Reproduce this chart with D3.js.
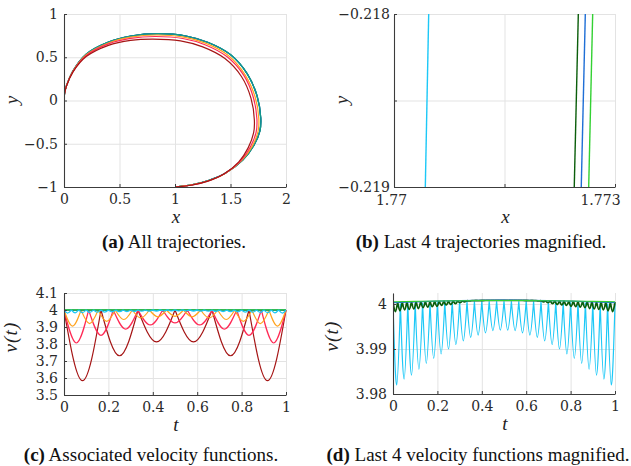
<!DOCTYPE html>
<html>
<head>
<meta charset="utf-8">
<script src="https://cdn.jsdelivr.net/npm/d3@7"></script>
<style>
body { margin: 0; background: #fff; }
.tk { font-family: "DejaVu Serif", "Liberation Serif", "Noto Serif", serif; }
.ttl { font-family: "Liberation Serif", "Times New Roman", "DejaVu Serif", serif; font-style: italic; }
.cap { font-family: "Liberation Serif", "Times New Roman", "DejaVu Serif", serif; }
</style>
</head>
<body>
<script>
// ---- data ----

// (a) trajectories, [x, y]
var trajDarkRed = [[0,0],[0.005,0.08],[0.022,0.166],[0.08,0.328],[0.2,0.508],[0.4,0.638],[0.6,0.695],[0.8,0.71],[1.05,0.69],[1.25,0.62],[1.45,0.485],[1.6,0.275],[1.685,0.025],[1.715,-0.225],[1.708,-0.375],[1.66,-0.545],[1.575,-0.71],[1.44,-0.85],[1.29,-0.935],[1.145,-0.98],[1,-1]];
var trajCrimson = [[0,0],[0.005,0.08],[0.022,0.168],[0.08,0.333],[0.2,0.52],[0.4,0.655],[0.6,0.718],[0.82,0.74],[1.07,0.717],[1.27,0.645],[1.47,0.505],[1.62,0.29],[1.706,0.035],[1.738,-0.215],[1.731,-0.365],[1.68,-0.535],[1.59,-0.7],[1.45,-0.843],[1.3,-0.93],[1.15,-0.977],[1,-1]];
var trajOrange = [[0,0],[0.005,0.08],[0.022,0.17],[0.08,0.337],[0.2,0.528],[0.4,0.665],[0.6,0.732],[0.83,0.757],[1.08,0.732],[1.28,0.66],[1.48,0.52],[1.63,0.3],[1.722,0.04],[1.755,-0.21],[1.748,-0.36],[1.695,-0.53],[1.6,-0.695],[1.455,-0.84],[1.3,-0.928],[1.15,-0.976],[1,-1]];
var trajCyan = [[0,0],[0.005,0.08],[0.022,0.17],[0.08,0.34],[0.2,0.534],[0.4,0.673],[0.6,0.743],[0.85,0.77],[1.1,0.743],[1.3,0.668],[1.5,0.528],[1.65,0.308],[1.738,0.05],[1.7705,-0.2],[1.763,-0.35],[1.708,-0.52],[1.608,-0.69],[1.459,-0.835],[1.3,-0.925],[1.15,-0.975],[1,-1]];
var trajDarkGreen = [[0,0],[0.005,0.08],[0.022,0.17],[0.08,0.34],[0.2,0.535],[0.4,0.675],[0.6,0.745],[0.85,0.772],[1.1,0.745],[1.3,0.67],[1.5,0.53],[1.65,0.31],[1.74,0.05],[1.7724,-0.2],[1.765,-0.35],[1.71,-0.52],[1.61,-0.69],[1.46,-0.835],[1.3,-0.925],[1.15,-0.975],[1,-1]];
var trajBlue = [[0,0],[0.005,0.08],[0.022,0.17],[0.08,0.34],[0.2,0.535],[0.4,0.675],[0.6,0.745],[0.85,0.772],[1.1,0.745],[1.3,0.67],[1.5,0.53],[1.65,0.31],[1.74,0.05],[1.7725,-0.2],[1.765,-0.35],[1.71,-0.52],[1.61,-0.69],[1.46,-0.835],[1.3,-0.925],[1.15,-0.975],[1,-1]];
var trajGreen = [[0,0],[0.005,0.08],[0.022,0.17],[0.08,0.34],[0.2,0.536],[0.4,0.676],[0.6,0.746],[0.85,0.773],[1.1,0.746],[1.3,0.671],[1.5,0.531],[1.65,0.311],[1.741,0.05],[1.7727,-0.2],[1.766,-0.35],[1.711,-0.52],[1.611,-0.69],[1.461,-0.835],[1.3,-0.925],[1.15,-0.975],[1,-1]];

// (b) the last 4 trajectories inside the magnified window
var magCyan = [[1.770425,-0.219],[1.770471,-0.218]];
var magDarkGreen = [[1.772447,-0.219],[1.772502,-0.218]];
var magBlue = [[1.772542,-0.219],[1.772597,-0.218]];
var magGreen = [[1.772643,-0.219],[1.772697,-0.218]];

// (c)/(d) velocity functions: cusp times, cusp values, dip value of each arch
var velDarkRedT = [0, 0.1667, 0.3333, 0.5, 0.6667, 0.8333, 1];
var velDarkRedTop = [4, 4, 4, 4, 4, 4, 4];
var velDarkRedDip = [3.584, 3.731, 3.812, 3.812, 3.731, 3.584];

var velCrimsonT = [0, 0.1111, 0.2222, 0.3333, 0.4444, 0.5556, 0.6667, 0.7778, 0.8889, 1];
var velCrimsonTop = [4, 4, 4, 4, 4, 4, 4, 4, 4, 4];
var velCrimsonDip = [3.806, 3.851, 3.888, 3.912, 3.924, 3.912, 3.888, 3.851, 3.806];

var velOrangeT = [0, 0.0769, 0.1538, 0.2308, 0.3077, 0.3846, 0.4615, 0.5385, 0.6154, 0.6923, 0.7692, 0.8462, 0.9231, 1];
var velOrangeTop = [4, 4, 4, 4, 4, 4, 4, 4, 4, 4, 4, 4, 4, 4];
var velOrangeDip = [3.905, 3.92, 3.933, 3.944, 3.953, 3.96, 3.963, 3.96, 3.953, 3.944, 3.933, 3.92, 3.905];

var velCyanT = [0, 0.0333, 0.0667, 0.1, 0.1333, 0.1667, 0.2, 0.2333, 0.2667, 0.3, 0.3333, 0.3667, 0.4, 0.4333, 0.4667, 0.5,
  0.5333, 0.5667, 0.6, 0.6333, 0.6667, 0.7, 0.7333, 0.7667, 0.8, 0.8333, 0.8667, 0.9, 0.9333, 0.9667, 1];
var velCyanTop = [4, 4.00008, 4.00015, 4.00022, 4.00028, 4.00033, 4.00038, 4.00043, 4.00047, 4.0005, 4.00053, 4.00056, 4.00058, 4.00059, 4.0006, 4.0006,
  4.0006, 4.00059, 4.00058, 4.00056, 4.00053, 4.0005, 4.00047, 4.00043, 4.00038, 4.00033, 4.00028, 4.00022, 4.00015, 4.00008, 4];
var velCyanDip = [3.982, 3.9833, 3.9842, 3.9855, 3.9868, 3.9879, 3.9889, 3.99, 3.991, 3.9918, 3.9926, 3.9931, 3.9936, 3.9941, 3.9942,
  3.9942, 3.9941, 3.9936, 3.9931, 3.9926, 3.9918, 3.991, 3.99, 3.9889, 3.9879, 3.9868, 3.9855, 3.9842, 3.9833, 3.982];

var velDarkGreenT = [0, 0.0208, 0.0417, 0.0625, 0.0833, 0.1042, 0.125, 0.1458, 0.1667, 0.1875, 0.2083, 0.2292, 0.25, 0.2708, 0.2917, 0.3125, 0.3333,
  0.3542, 0.375, 0.3958, 0.4167, 0.4375, 0.4583, 0.4792, 0.5, 0.5208, 0.5417, 0.5625, 0.5833, 0.6042, 0.625, 0.6458, 0.6667,
  0.6875, 0.7083, 0.7292, 0.75, 0.7708, 0.7917, 0.8125, 0.8333, 0.8542, 0.875, 0.8958, 0.9167, 0.9375, 0.9583, 0.9792, 1];
var velDarkGreenTop = [4.0004, 4.00043, 4.00046, 4.00049, 4.00052, 4.00055, 4.00058, 4.0006, 4.00062, 4.00064, 4.00066, 4.00068, 4.0007, 4.00072, 4.00073, 4.00074, 4.00075,
  4.00076, 4.00077, 4.00078, 4.00079, 4.00079, 4.0008, 4.0008, 4.0008, 4.0008, 4.0008, 4.00079, 4.00079, 4.00078, 4.00077, 4.00076, 4.00075,
  4.00074, 4.00073, 4.00072, 4.0007, 4.00068, 4.00066, 4.00064, 4.00062, 4.0006, 4.00058, 4.00055, 4.00052, 4.00049, 4.00046, 4.00043, 4.0004];
var velDarkGreenDip = [3.9983, 3.9985, 3.9987, 3.9988, 3.9989, 3.999, 3.9992, 3.9993, 3.9994, 3.9995, 3.9997, 3.9998, 3.9999, 4.0001, 4.0003, 4.0005, 4.00068,
  4.00074, 4.00076, 4.00077, 4.00078, 4.00079, 4.00079, 4.0008, 4.0008, 4.00079, 4.00079, 4.00078, 4.00077, 4.00076, 4.00074, 4.00068,
  4.0005, 4.0003, 4.0001, 3.9999, 3.9998, 3.9997, 3.9995, 3.9994, 3.9993, 3.9992, 3.999, 3.9989, 3.9988, 3.9987, 3.9985, 3.9983];

var velBlueT = [0, 0.1, 0.2, 0.3, 0.4, 0.5, 0.6, 0.7, 0.8, 0.9, 1];
var velBlueV = [4.0003, 4.00048, 4.00062, 4.00073, 4.0008, 4.00083, 4.0008, 4.00073, 4.00062, 4.00048, 4.0003];
var velGreenT = [0, 0.1, 0.2, 0.3, 0.4, 0.5, 0.6, 0.7, 0.8, 0.9, 1];
var velGreenV = [4.0005, 4.00058, 4.00066, 4.00072, 4.00076, 4.00078, 4.00076, 4.00072, 4.00066, 4.00058, 4.0005];

// ticks
var ticksA_x = [0, 0.5, 1, 1.5, 2], labelsA_x = ["0", "0.5", "1", "1.5", "2"];
var ticksA_y = [-1, -0.5, 0, 0.5, 1], labelsA_y = ["\u22121", "\u22120.5", "0", "0.5", "1"];
var ticksB_x = [1.77, 1.7715, 1.773], labelsB_x = ["1.77", "", "1.773"];
var ticksB_y = [-0.219, -0.2185, -0.218], labelsB_y = ["\u22120.219", "", "\u22120.218"];
var ticksC_x = [0, 0.2, 0.4, 0.6, 0.8, 1], labelsC_x = ["0", "0.2", "0.4", "0.6", "0.8", "1"];
var ticksC_y = [3.5, 3.6, 3.7, 3.8, 3.9, 4, 4.1], labelsC_y = ["3.5", "3.6", "3.7", "3.8", "3.9", "4", "4.1"];
var ticksD_y = [3.98, 3.99, 4], labelsD_y = ["3.98", "3.99", "4"];

var colors = {darkred: "#a51515", crimson: "#ff2a55", orange: "#ffa31e", cyan: "#1cc8f7",
  darkgreen: "#0b5e0b", blue: "#1f6fd6", green: "#33d133"};

// ---- drawing ----
var svg = d3.select("body").append("svg").attr("width", 631).attr("height", 466);
var clipId = 0;

function panel(p) {
  var x = d3.scaleLinear().domain(p.xDomain).range([p.left, p.right]);
  var y = d3.scaleLinear().domain(p.yDomain).range([p.bottom, p.top]);
  var g = svg.append("g");

  // grid
  g.append("g").attr("transform", "translate(0," + p.bottom + ")")
    .call(d3.axisBottom(x).tickValues(p.xTicks).tickSize(-(p.bottom - p.top)).tickFormat(""))
    .call(function(s) { s.select(".domain").remove(); s.selectAll("line").attr("stroke", "#e3e3e3"); });
  g.append("g").attr("transform", "translate(" + p.left + ",0)")
    .call(d3.axisLeft(y).tickValues(p.yTicks).tickSize(-(p.right - p.left)).tickFormat(""))
    .call(function(s) { s.select(".domain").remove(); s.selectAll("line").attr("stroke", "#e3e3e3"); });

  // data layer, clipped to the axes box
  clipId++;
  svg.append("clipPath").attr("id", "clip" + clipId).append("rect")
    .attr("x", p.left).attr("y", p.top - 2).attr("width", p.right - p.left + 1).attr("height", p.bottom - p.top + 2);
  var plot = g.append("g").attr("clip-path", "url(#clip" + clipId + ")");

  // axes
  var xa = g.append("g").attr("transform", "translate(0," + p.bottom + ")")
    .call(d3.axisBottom(x).tickValues(p.xTicks).tickSizeInner(-3).tickSizeOuter(0).tickPadding(p.xPad)
      .tickFormat(function(d, i) { return p.xLabels[i]; }));
  var ya = g.append("g").attr("transform", "translate(" + p.left + ",0)")
    .call(d3.axisLeft(y).tickValues(p.yTicks).tickSizeInner(-3).tickSizeOuter(0).tickPadding(p.yPad)
      .tickFormat(function(d, i) { return p.yLabels[i]; }));
  [xa, ya].forEach(function(a) {
    a.attr("font-family", null);
    a.select(".domain").attr("stroke", "#3c3c3c").attr("stroke-width", 1.1);
    a.selectAll(".tick line").attr("stroke", "#3c3c3c");
    a.selectAll("text").attr("class", "tk").attr("font-size", 14).attr("fill", "#2a2a2a");
  });
  if (p.xLabelShift) xa.selectAll("text").attr("dx", function(d, i) { return p.xLabelShift[i]; });

  // axis titles
  g.append("text").attr("class", "ttl").attr("x", (p.left + p.right) / 2 + 1).attr("y", p.bottom + 36)
    .attr("text-anchor", "middle").attr("font-size", 19).attr("fill", "#222").text(p.xTitle);
  g.append("text").attr("class", "ttl").attr("transform", "translate(" + p.yTitleX + "," + p.yTitleY + ") rotate(-90)")
    .attr("text-anchor", "middle").attr("font-size", 19)
    .attr("letter-spacing", p.yTitle.length > 1 ? 1.2 : 0).attr("fill", "#222").text(p.yTitle);

  return {x: x, y: y, plot: plot};
}

function drawCurve(P, pts, color, width) {
  var line = d3.line().x(function(d) { return P.x(d[0]); }).y(function(d) { return P.y(d[1]); })
    .curve(d3.curveCatmullRom.alpha(0.5));
  P.plot.append("path").attr("d", line(pts)).attr("fill", "none").attr("stroke", color).attr("stroke-width", width);
}

function drawStraight(P, pts, color, width) {
  var line = d3.line().x(function(d) { return P.x(d[0]); }).y(function(d) { return P.y(d[1]); });
  P.plot.append("path").attr("d", line(pts)).attr("fill", "none").attr("stroke", color).attr("stroke-width", width);
}

// arches: each one runs cusp -> dip (at its middle) -> cusp
function drawArches(P, ts, tops, dips, color, width) {
  var line = d3.line().x(function(d) { return P.x(d[0]); }).y(function(d) { return P.y(d[1]); })
    .curve(d3.curveNatural);
  var d = "";
  for (var i = 0; i < dips.length; i++) {
    d += line([[ts[i], tops[i]], [(ts[i] + ts[i + 1]) / 2, dips[i]], [ts[i + 1], tops[i + 1]]]);
  }
  P.plot.append("path").attr("d", d).attr("fill", "none").attr("stroke", color).attr("stroke-width", width)
    .attr("stroke-linejoin", "round");
}

function drawSmooth(P, ts, vs, color, width) {
  var line = d3.line().x(function(d, i) { return P.x(ts[i]); }).y(function(d) { return P.y(d); })
    .curve(d3.curveNatural);
  P.plot.append("path").attr("d", line(vs)).attr("fill", "none").attr("stroke", color).attr("stroke-width", width);
}

// (a)
var A = panel({left: 64, right: 286, top: 14, bottom: 187, xDomain: [0, 2], yDomain: [-1, 1],
  xTicks: ticksA_x, xLabels: labelsA_x, yTicks: ticksA_y, yLabels: labelsA_y, xPad: 7, yPad: 6,
  xTitle: "x", yTitle: "y", yTitleX: 18, yTitleY: 100});
drawCurve(A, trajCyan, colors.cyan, 1.2);
drawCurve(A, trajDarkGreen, colors.darkgreen, 1.2);
drawCurve(A, trajBlue, colors.blue, 1.2);
drawCurve(A, trajGreen, "#119a8a", 1.2);
drawCurve(A, trajOrange, colors.orange, 1.2);
drawCurve(A, trajCrimson, colors.crimson, 1.2);
drawCurve(A, trajDarkRed, colors.darkred, 1.2);

// (b)
var B = panel({left: 394, right: 615, top: 14, bottom: 187, xDomain: [1.77, 1.773], yDomain: [-0.219, -0.218],
  xTicks: ticksB_x, xLabels: labelsB_x, xLabelShift: [-3, 0, -15], yTicks: ticksB_y, yLabels: labelsB_y, xPad: 8, yPad: 4,
  xTitle: "x", yTitle: "y", yTitleX: 348, yTitleY: 100});
drawStraight(B, magCyan, colors.cyan, 1.4);
drawStraight(B, magDarkGreen, colors.darkgreen, 1.4);
drawStraight(B, magBlue, colors.blue, 1.4);
drawStraight(B, magGreen, colors.green, 1.4);

// (c)
var C = panel({left: 64, right: 286, top: 293, bottom: 395, xDomain: [0, 1], yDomain: [3.5, 4.1],
  xTicks: ticksC_x, xLabels: labelsC_x, yTicks: ticksC_y, yLabels: labelsC_y, xPad: 7, yPad: 6,
  xTitle: "t", yTitle: "v(t)", yTitleX: 17, yTitleY: 337});
drawArches(C, velDarkRedT, velDarkRedTop, velDarkRedDip, colors.darkred, 1.2);
drawArches(C, velCrimsonT, velCrimsonTop, velCrimsonDip, colors.crimson, 1.2);
drawArches(C, velOrangeT, velOrangeTop, velOrangeDip, colors.orange, 1.2);
drawArches(C, velDarkGreenT, velDarkGreenTop, velDarkGreenDip, colors.darkgreen, 1.2);
drawSmooth(C, velBlueT, velBlueV, colors.blue, 1.2);
drawSmooth(C, velGreenT, velGreenV, colors.green, 1.2);
drawArches(C, velCyanT, velCyanTop, velCyanDip, colors.cyan, 1.2);

// (d)
var D = panel({left: 393, right: 615, top: 293, bottom: 394, xDomain: [0, 1], yDomain: [3.98, 4.00244],
  xTicks: ticksC_x, xLabels: labelsC_x, yTicks: ticksD_y, yLabels: labelsD_y, xPad: 7, yPad: 6,
  xTitle: "t", yTitle: "v(t)", yTitleX: 338, yTitleY: 336});
drawArches(D, velCyanT, velCyanTop, velCyanDip, colors.cyan, 1.2);
drawArches(D, velDarkGreenT, velDarkGreenTop, velDarkGreenDip, colors.darkgreen, 1.8);
drawSmooth(D, velBlueT, velBlueV, colors.blue, 1.3);
drawSmooth(D, velGreenT, velGreenV, colors.green, 1.1);

// captions
var captions = [
  {tag: "(a)", text: " All trajectories.", x: 174, y: 248},
  {tag: "(b)", text: " Last 4 trajectories magnified.", x: 481, y: 248},
  {tag: "(c)", text: " Associated velocity functions.", x: 151, y: 461},
  {tag: "(d)", text: " Last 4 velocity functions magnified.", x: 478, y: 461}
];
captions.forEach(function(c) {
  var t = svg.append("text").attr("class", "cap").attr("x", c.x).attr("y", c.y).attr("text-anchor", "middle")
    .attr("font-size", 19).attr("fill", "#111");
  t.append("tspan").attr("font-weight", "bold").text(c.tag);
  t.append("tspan").text(c.text);
});
</script>
</body>
</html>
